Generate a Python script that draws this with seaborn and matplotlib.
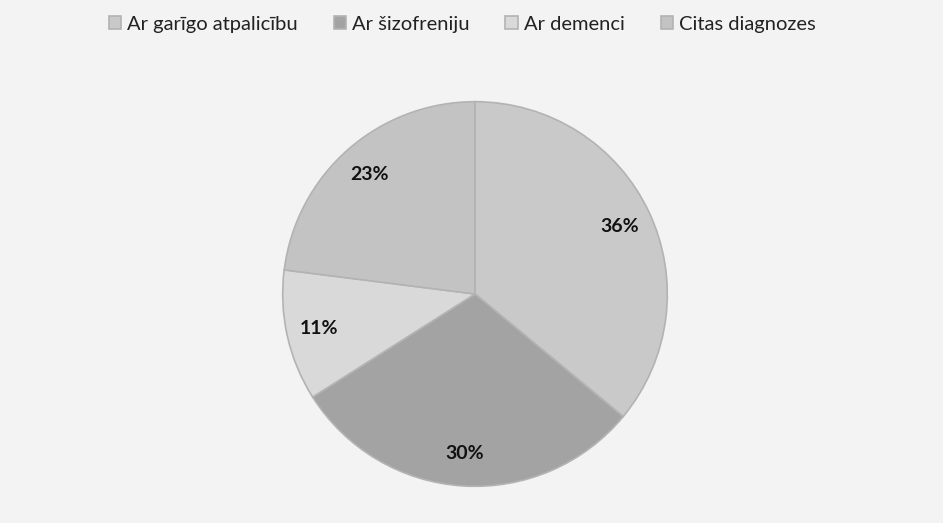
import matplotlib
matplotlib.use("Agg")
import matplotlib.pyplot as plt
import seaborn as sns

categories = ["Ar garīgo atpalicību", "Ar šizofreniju", "Ar demenci", "Citas diagnozes"]
values = [36, 30, 11, 23]
colors = ["#c9c9c9", "#a3a3a3", "#d9d9d9", "#c3c3c3"]

sns.set_theme(style="white")
plt.rcParams["font.family"] = ["Lato", "DejaVu Sans"]

fig = plt.figure(figsize=(9.43, 5.23), dpi=100)
fig.patch.set_facecolor("#f3f3f3")

ax = fig.add_axes([275 / 943, 29 / 523, 400 / 943, 400 / 523])
wedges, texts, autotexts = ax.pie(
    values, colors=colors, startangle=90, counterclock=False,
    autopct=lambda p: f"{p:.0f}%", pctdistance=0.83,
    wedgeprops=dict(edgecolor="#b3b3b3", linewidth=1.2),
    textprops=dict(fontsize=14, fontweight="bold", color="#111111"),
)
ax.set_xlim(-1.04, 1.04)
ax.set_ylim(-1.04, 1.04)
ax.set_aspect("equal")
ax.axis("off")

fig.legend(wedges, categories, loc="upper center", bbox_to_anchor=(0.49, 1.005),
           ncol=4, frameon=False, fontsize=14.5, handlelength=0.6, handleheight=0.6,
           handletextpad=0.3, columnspacing=1.8, labelcolor="#222222")

fig.savefig("out.png", dpi=100, facecolor=fig.get_facecolor())
